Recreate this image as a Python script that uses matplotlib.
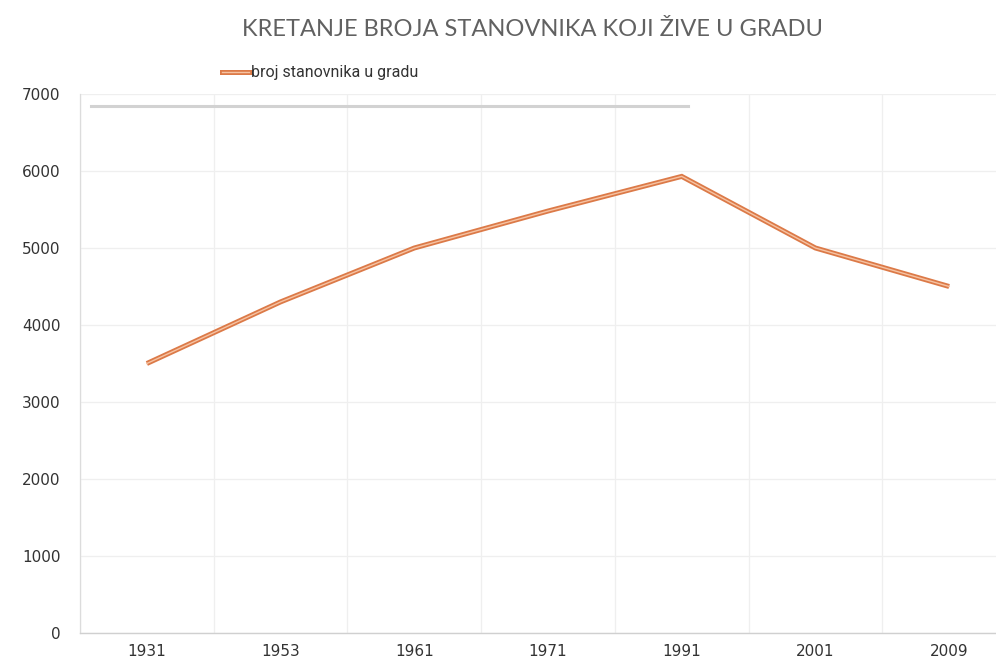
import matplotlib
matplotlib.use("Agg")
import matplotlib.pyplot as plt
import matplotlib.patheffects as pe
from matplotlib.lines import Line2D
import numpy as np

years = ["1931", "1953", "1961", "1971", "1991", "2001", "2009"]
population = [3500, 4300, 5000, 5480, 5930, 5000, 4500]
yticks = [0, 1000, 2000, 3000, 4000, 5000, 6000, 7000]
ref_line_value = 6840

W, H = 996, 661
fig = plt.figure(figsize=(W / 100, H / 100), dpi=100)
fig.patch.set_facecolor("white")
ax = fig.add_axes([80 / W, (H - 633) / H, (1016 - 80) / W, (633 - 94) / H])

x = np.arange(len(years))
ax.plot(x, population, color="#dc7a48", lw=3.6, solid_capstyle="butt",
        solid_joinstyle="miter", zorder=3)
ax.plot(x, population, color="#f6c3a3", lw=1.0, solid_joinstyle="miter", zorder=4)

ax.axhline(ref_line_value, xmin=(91 - 80) / 936, xmax=(688 - 80) / 936,
           color="#d2d2d2", lw=2.2, zorder=2)

ax.set_xlim(-0.5, len(years) - 0.5)
ax.set_ylim(0, 7000)
ax.set_xticks(x)
ax.set_xticklabels(years)
ax.set_yticks(yticks)
ax.set_xticks(np.arange(-0.5, len(years) + 0.5, 1), minor=True)
ax.grid(False)
ax.grid(True, which="minor", axis="x", color="#efefef", lw=0.9)
ax.grid(True, which="major", axis="y", color="#efefef", lw=0.9)
ax.set_axisbelow(True)
for s in ["top", "right"]:
    ax.spines[s].set_visible(False)
ax.spines["left"].set_color("#dcdcdc")
ax.spines["bottom"].set_color("#d0d0d0")
ax.spines["left"].set_linewidth(0.9)
ax.spines["bottom"].set_linewidth(1.0)
ax.tick_params(axis="both", which="both", length=0, labelsize=11, colors="#333333")
ax.tick_params(axis="x", pad=8)
ax.tick_params(axis="y", pad=14)

fig.text(532 / W, 1 - 30 / H, "KRETANJE BROJA STANOVNIKA KOJI ŽIVE U GRADU",
         ha="center", va="center", fontsize=17, color="#616161",
         family="Lato", fontweight="normal")

handle = Line2D([0], [0], color="#dc7a48", lw=3.6,
                path_effects=[pe.Normal(),
                              pe.Stroke(linewidth=1.0, foreground="#f6c3a3")])
leg = fig.legend([handle], ["broj stanovnika u gradu"], loc="center left",
                 bbox_to_anchor=(222 / W, 1 - 73 / H), frameon=False,
                 fontsize=11.5, handlelength=1.7, handletextpad=0.1,
                 borderaxespad=0, borderpad=0)
for t in leg.get_texts():
    t.set_color("#333333")
    t.set_family("Roboto")

fig.savefig("out.png", dpi=100, facecolor="white")
